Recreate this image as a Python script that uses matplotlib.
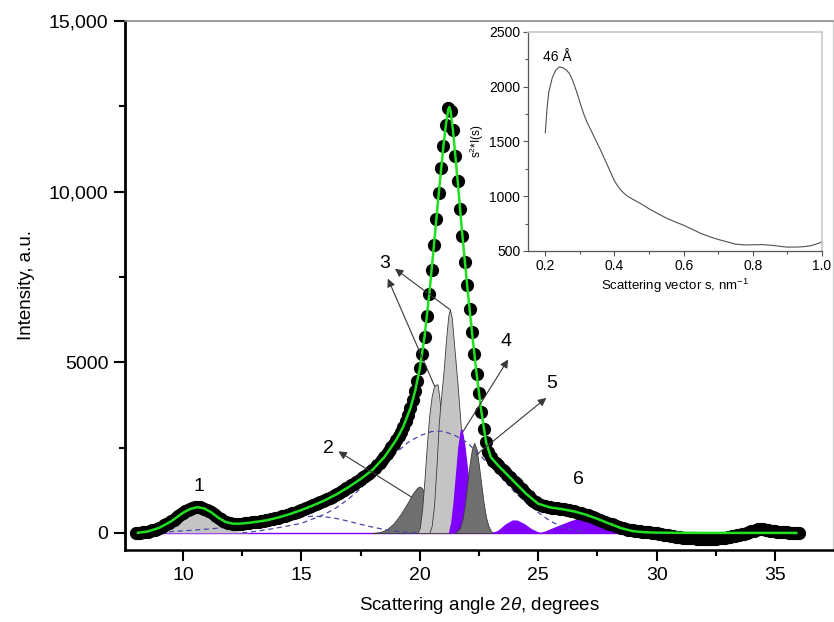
import numpy as np
import matplotlib.pyplot as plt

plt.rcParams['font.family'] = ['Liberation Sans', 'DejaVu Sans']
plt.rcParams['mathtext.fontset'] = 'custom'
plt.rcParams['mathtext.rm'] = 'Liberation Sans'
plt.rcParams['mathtext.it'] = 'Liberation Sans:italic'

# =============================================================================
# MEASURED PATTERN (2theta step 0.1 deg, 8 .. 36)
# =============================================================================
angle = np.round(np.arange(8.0, 36.05, 0.1), 1)
intensity = [
    0, 5, 10, 15, 25, 40, 55, 75, 95, 120,                              # 8.0
    150, 185, 220, 260, 300, 340, 390, 440, 490, 540,                   # 9.0
    590, 630, 665, 700, 725, 745, 755, 750, 735, 715,                   # 10.0
    680, 640, 600, 550, 495, 440, 395, 355, 320, 295,                   # 11.0
    280, 272, 268, 268, 270, 275, 282, 290, 298, 306,                   # 12.0
    314, 322, 330, 340, 352, 365, 380, 395, 410, 428,                   # 13.0
    447, 466, 486, 507, 528, 550, 573, 596, 620, 645,                   # 14.0
    670, 697, 724, 752, 780, 808, 837, 866, 896, 927,                   # 15.0
    958, 990, 1024, 1060, 1098, 1137, 1177, 1218, 1260, 1303,           # 16.0
    1347, 1392, 1437, 1483, 1530, 1578, 1627, 1677, 1730, 1785,         # 17.0
    1845, 1910, 1980, 2055, 2135, 2220, 2310, 2405, 2505, 2610,         # 18.0
    2720, 2840, 2970, 3110, 3270, 3450, 3650, 3880, 4150, 4460,         # 19.0
    4820, 5250, 5750, 6350, 7000, 7700, 8450, 9200, 9950, 10700,        # 20.0
    11350, 11950, 12450, 12350, 11800, 11050, 10300, 9500, 8700, 7950,  # 21.0
    7250, 6550, 5900, 5250, 4650, 4100, 3550, 3050, 2650, 2380,         # 22.0
    2220, 2120, 2050, 1980, 1910, 1840, 1770, 1700, 1630, 1560,         # 23.0
    1490, 1420, 1350, 1280, 1210, 1140, 1070, 1005, 945, 895,           # 24.0
    855, 820, 795, 775, 760, 748, 738, 728, 718, 708,                   # 25.0
    698, 688, 676, 663, 648, 632, 615, 597, 578, 558,                   # 26.0
    537, 514, 490, 465, 439, 412, 385, 357, 329, 301,                   # 27.0
    274, 248, 222, 198, 175, 153, 133, 115, 99, 85,                     # 28.0
    72, 62, 54, 46, 39, 32, 24, 15, 5, -5,                              # 29.0
    -16, -27, -38, -50, -62, -74, -86, -98, -109, -119,                 # 30.0
    -128, -136, -143, -149, -154, -158, -162, -165, -167, -169,         # 31.0
    -170, -171, -171, -170, -168, -165, -161, -156, -149, -140,         # 32.0
    -130, -118, -104, -89, -72, -54, -36, -18, 0, 20,                   # 33.0
    45, 70, 90, 105, 110, 105, 92, 78, 64, 52,                          # 34.0
    42, 34, 27, 21, 16, 12, 8, 5, 3, 1,                                 # 35.0
    0,
]

# cumulative fit
fit_angle = [8.1, 8.5, 9.0, 9.5, 10.0, 10.3, 10.6, 10.9, 11.2, 11.5, 11.8, 12.1,
             12.4, 12.8, 13.5, 14.0, 14.5, 15.0, 15.5, 16.0, 16.5, 17.0, 17.5,
             18.0, 18.5, 19.0, 19.3, 19.6, 19.8, 20.0, 20.2, 20.4, 20.6, 20.8,
             21.0, 21.1, 21.2, 21.25, 21.3, 21.4, 21.5, 21.6, 21.8, 22.0, 22.2,
             22.4, 22.6, 22.8, 23.0, 23.3, 23.6, 24.0, 24.5, 25.0, 25.5, 26.0,
             26.5, 27.0, 27.5, 28.0, 28.5, 29.0, 29.5, 30.0, 31.0, 32.0, 33.0,
             34.0, 35.0, 35.9]
fit_int = [5, 40, 150, 340, 590, 700, 755, 715, 600, 440, 320, 272,
           270, 298, 365, 447, 550, 670, 808, 958, 1137, 1347, 1578,
           1845, 2220, 2720, 3110, 3650, 4150, 4820, 5750, 7000, 8450, 9950,
           11350, 11950, 12400, 12480, 12350, 11800, 11050, 10300, 8700, 7250, 5900,
           4650, 3550, 2650, 2220, 1980, 1770, 1490, 1140, 855, 748, 698,
           632, 537, 412, 274, 140, 50, 20, 8, 3, 0, 0,
           0, 0, 0]

# =============================================================================
# DECONVOLUTION COMPONENTS
# =============================================================================
halo_angle = [12.5, 13.0, 13.5, 14.0, 15.0, 16.0, 16.5, 17.0, 17.5, 18.0, 18.5,
              19.0, 19.5, 20.0, 20.5, 21.0, 21.5, 22.0, 22.5, 23.0, 23.5, 24.0,
              24.5, 25.0, 25.5, 26.0, 26.5, 27.0]
halo_int = [0, 40, 90, 150, 280, 550, 750, 1000, 1300, 1650, 2000,
            2350, 2650, 2850, 2970, 2980, 2850, 2650, 2300, 1950, 1600, 1200,
            880, 600, 350, 180, 80, 20]

broad_angle = [8.3, 9.0, 10.0, 11.0, 12.0, 13.0, 14.0, 15.0, 15.5, 16.0, 16.5,
               17.0, 17.5, 18.0, 18.5, 19.0, 19.5, 20.0]
broad_int = [0, 20, 60, 110, 170, 260, 380, 470, 490, 470, 420,
             340, 250, 170, 100, 50, 20, 0]

peak1_angle = [8.3, 8.6, 9.0, 9.3, 9.6, 9.9, 10.2, 10.5, 10.7, 10.9, 11.2,
               11.5, 11.8, 12.1, 12.4, 12.8]
peak1_int = [0, 20, 80, 160, 290, 430, 560, 640, 655, 620, 500,
             340, 200, 100, 40, 0]

peak2_angle = [18.0, 18.3, 18.6, 18.9, 19.2, 19.5, 19.7, 19.9, 20.0, 20.1, 20.3, 20.5, 20.7]
peak2_int = [0, 20, 100, 280, 560, 900, 1150, 1330, 1360, 1300, 1000, 600, 0]

peak3a_angle = [19.9, 20.0, 20.1, 20.2, 20.3, 20.4, 20.5, 20.6, 20.7, 20.75, 20.8,
                20.9, 21.0, 21.1, 21.2, 21.3, 21.4, 21.5]
peak3a_int = [0, 150, 700, 1600, 2600, 3450, 4000, 4300, 4350, 4350, 4100,
              3500, 2600, 1700, 900, 400, 100, 0]

peak3b_angle = [20.4, 20.5, 20.6, 20.7, 20.8, 20.9, 21.0, 21.1, 21.2, 21.27, 21.35,
                21.4, 21.5, 21.6, 21.7, 21.8, 21.9, 22.0, 22.1, 22.2, 22.3]
peak3b_int = [0, 200, 800, 1900, 3200, 4000, 4700, 5600, 6350, 6550, 6300,
              5900, 5100, 4300, 3400, 2500, 1600, 900, 400, 100, 0]

peak4_angle = [21.2, 21.3, 21.4, 21.5, 21.6, 21.7, 21.76, 21.8, 21.9, 22.0, 22.1,
               22.2, 22.3, 22.4, 22.5]
peak4_int = [0, 300, 900, 1700, 2500, 3000, 3070, 3000, 2600, 2000, 1400,
             800, 400, 150, 0]

peak5_angle = [21.5, 21.7, 21.8, 21.9, 22.0, 22.1, 22.2, 22.3, 22.4, 22.5, 22.6,
               22.7, 22.8, 22.9, 23.0, 23.1]
peak5_int = [0, 150, 400, 800, 1400, 2000, 2450, 2640, 2450, 1950, 1400,
             850, 450, 200, 60, 0]

peak6a_angle = [23.0, 23.3, 23.6, 23.9, 24.1, 24.4, 24.7, 25.0, 25.2]
peak6a_int = [0, 80, 260, 380, 380, 280, 130, 30, 0]

peak6b_angle = [25.0, 25.3, 25.6, 26.0, 26.4, 26.8, 27.2, 27.6, 28.0, 28.4, 28.8, 29.2]
peak6b_int = [0, 60, 150, 260, 370, 430, 400, 320, 200, 90, 20, 0]

# =============================================================================
# INSET: s^2*I(s) vs s
# =============================================================================
s_vec = [0.200, 0.205, 0.21, 0.22, 0.23, 0.24, 0.25, 0.26, 0.27, 0.28, 0.29, 0.30,
         0.31, 0.32, 0.34, 0.36, 0.38, 0.40, 0.41, 0.42, 0.43, 0.44, 0.46, 0.48,
         0.50, 0.52, 0.55, 0.58, 0.60, 0.62, 0.65, 0.68, 0.70, 0.73, 0.75, 0.78,
         0.80, 0.83, 0.86, 0.88, 0.90, 0.93, 0.95, 0.97, 0.99, 1.00]
s2I = [1580, 1800, 1950, 2080, 2150, 2180, 2175, 2155, 2120, 2050, 1960, 1860,
       1760, 1680, 1550, 1420, 1280, 1140, 1090, 1050, 1020, 995, 960, 925,
       885, 850, 800, 760, 735, 705, 660, 625, 605, 580, 562, 555,
       557, 558, 550, 542, 535, 536, 540, 550, 570, 585]

# =============================================================================
# PLOT
# =============================================================================
fig = plt.figure(figsize=(8.34, 6.22), dpi=100)
ax = fig.add_axes([0.1499, 0.1158, 0.8489, 0.8505])

light = '#c4c4c4'
dark = '#707070'
purple = '#8000ff'
edge = '#3c3c3c'

ax.plot([8.0, 36.0], [0, 0], color=purple, lw=1.0, zorder=1)
ax.fill_between(peak1_angle, peak1_int, color=light, lw=0, zorder=2)
ax.fill_between(peak2_angle, peak2_int, facecolor=dark, edgecolor=edge, lw=0.6, zorder=2)
ax.fill_between(peak3a_angle, peak3a_int, facecolor=light, edgecolor=edge, lw=0.6, zorder=2)
ax.fill_between(peak3b_angle, peak3b_int, facecolor=light, edgecolor=edge, lw=0.6, zorder=2)
ax.fill_between(peak4_angle, peak4_int, color=purple, lw=0, zorder=2)
ax.fill_between(peak5_angle, peak5_int, facecolor=dark, edgecolor=edge, lw=0.6, zorder=2)
ax.fill_between(peak6a_angle, peak6a_int, color=purple, lw=0, zorder=2)
ax.fill_between(peak6b_angle, peak6b_int, color=purple, lw=0, zorder=2)

ax.plot(halo_angle, halo_int, color='#4848a8', lw=0.9, ls=(0, (4, 3)), zorder=3)
ax.plot(broad_angle, broad_int, color='#4848a8', lw=0.9, ls=(0, (4, 3)), zorder=3)

ax.plot(angle, intensity, 'o', color='black', ms=8.5, zorder=4)
ax.plot(fit_angle, fit_int, color='#20e020', lw=1.8, zorder=5)

# peak labels and arrows
arw = dict(arrowstyle='-|>', color='#383838', lw=0.8, mutation_scale=12, shrinkA=0, shrinkB=0)
ax.annotate('', xy=(16.56, 2390), xytext=(19.65, 1050), arrowprops=arw, zorder=6)
ax.annotate('', xy=(18.65, 7450), xytext=(20.63, 4290), arrowprops=arw, zorder=6)
ax.annotate('', xy=(18.95, 7740), xytext=(21.27, 6545), arrowprops=arw, zorder=6)
ax.annotate('', xy=(23.73, 5080), xytext=(21.83, 2975), arrowprops=arw, zorder=6)
ax.annotate('', xy=(25.34, 3955), xytext=(22.39, 2290), arrowprops=arw, zorder=6)

lbl = dict(fontsize=14, ha='center', va='center', zorder=7)
ax.text(10.68, 1360, '1', **lbl)
ax.text(16.13, 2470, '2', **lbl)
ax.text(18.52, 7900, '3', **lbl)
ax.text(23.65, 5610, '4', **lbl)
ax.text(25.58, 4380, '5', **lbl)
ax.text(26.68, 1555, '6', **lbl)

ax.set_xlim(7.55, 37.45)
ax.set_ylim(-500, 15000)
ax.set_xticks([10, 15, 20, 25, 30, 35])
ax.set_xticks([12.5, 17.5, 22.5, 27.5, 32.5], minor=True)
ax.set_yticks([0, 5000, 10000, 15000])
ax.set_yticklabels(['0', '5000', '10,000', '15,000'])
ax.set_yticks([2500, 7500, 12500], minor=True)
ax.tick_params(which='major', direction='out', length=8, width=1.5, labelsize=14, pad=4)
ax.tick_params(which='minor', direction='out', length=4.5, width=1.5)
ax.spines['left'].set_linewidth(2.0)
ax.spines['bottom'].set_linewidth(1.8)
ax.spines['top'].set_color('#8a8a8a')
ax.spines['top'].set_linewidth(1.2)
ax.spines['right'].set_color('#d0d0d0')
ax.spines['right'].set_linewidth(1.0)
ax.set_xlabel('Scattering angle 2$\\it{\\theta}$, degrees', fontsize=13.5, labelpad=8)
ax.set_ylabel('Intensity, a.u.', fontsize=13.5, labelpad=10)

# inset
axi = fig.add_axes([0.6331, 0.5965, 0.3525, 0.3521])
axi.plot(s_vec, s2I, color='#505050', lw=0.8)
axi.text(0.234, 2275, '46 Å', fontsize=10, ha='center', va='center')
axi.set_xlim(0.15, 1.0)
axi.set_ylim(500, 2500)
axi.set_xticks([0.2, 0.4, 0.6, 0.8, 1.0])
axi.set_xticklabels(['0.2', '0.4', '0.6', '0.8', '1.0'])
axi.set_xticks([0.3, 0.5, 0.7, 0.9], minor=True)
axi.set_yticks([500, 1000, 1500, 2000, 2500])
axi.set_yticks([750, 1250, 1750, 2250], minor=True)
axi.tick_params(which='major', direction='out', length=3.5, width=0.8, labelsize=10, pad=2, color='#555555')
axi.tick_params(which='minor', direction='out', length=2, width=0.8, color='#555555')
for side in ['left', 'bottom']:
    axi.spines[side].set_color('#555555')
    axi.spines[side].set_linewidth(0.9)
for side in ['top', 'right']:
    axi.spines[side].set_color('#c8c8c8')
    axi.spines[side].set_linewidth(1.2)
axi.set_xlabel('Scattering vector s, nm$^{-1}$', fontsize=9.5, labelpad=3)
axi.set_ylabel('s$^2$*I(s)', fontsize=8.5, labelpad=2)

fig.savefig('out.png', dpi=100)
